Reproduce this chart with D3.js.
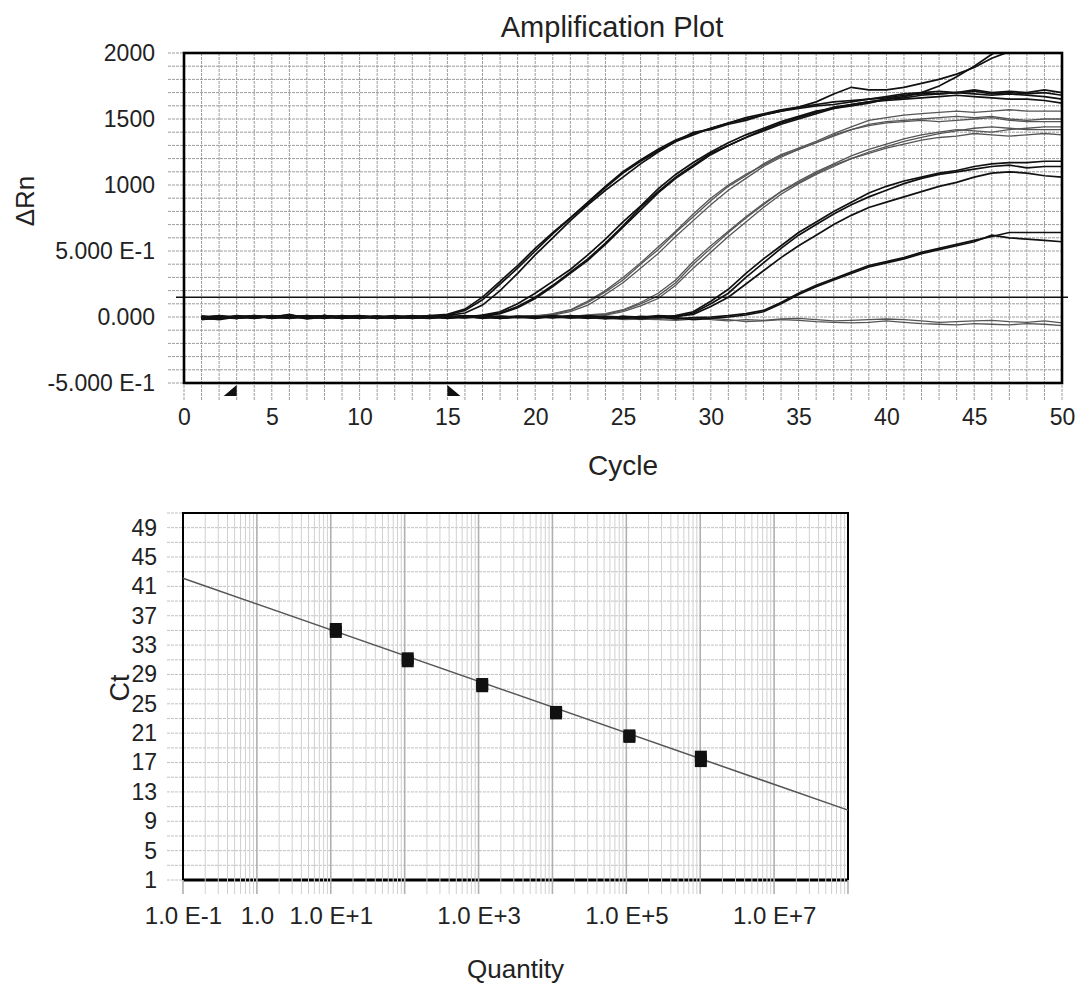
<!DOCTYPE html>
<html>
<head>
<meta charset="utf-8">
<script src="https://cdn.jsdelivr.net/npm/d3@7"></script>
<style>
body { margin: 0; background: #fff; }
svg text { font-family: "Liberation Sans", Arial, sans-serif; fill: #222; }
</style>
</head>
<body>
<div id="chart"></div>
<script>
// ---------- amplification plot data (delta Rn per cycle, cycles 1..50) ----------
const cycles = d3.range(1, 51);
const threshold = 150;
const baselineStart = 3;
const baselineEnd = 15;
const ampXTicks = [0, 5, 10, 15, 20, 25, 30, 35, 40, 45, 50];
const ampYTicks = [-500, 0, 500, 1000, 1500, 2000];
const ampYLabels = ['-5.000 E-1', '0.000', '5.000 E-1', '1000', '1500', '2000'];

const g1a = [-15,-10,0,5,-5,20,-10,5,0,-5, 5,-10,0,10,20,60,150,270,390,520,
  640,750,870,990,1100,1190,1270,1340,1390,1430, 1470,1510,1540,1570,1590,1610,1630,1640,1650,1660,
  1680,1690,1690,1700,1690,1680,1690,1680,1670,1650];
const g1b = [-20,-5,5,-5,0,10,-15,0,10,0, -10,0,-5,5,10,30,90,200,330,470,
  600,730,850,960,1060,1160,1250,1330,1400,1420, 1460,1490,1530,1560,1580,1600,1610,1630,1650,1670,
  1690,1700,1710,1700,1720,1700,1710,1700,1720,1700];
const g1c = [-10,-15,10,0,5,15,-5,10,-5,0, 0,-5,5,0,15,50,130,250,370,500,
  630,750,860,980,1090,1180,1260,1330,1380,1430, 1470,1500,1530,1560,1590,1630,1690,1740,1720,1720,
  1740,1770,1800,1840,1890,1960,2010,2050,2090,2120];
const g2a = [-5,-20,0,10,-10,5,0,-10,5,10, -5,0,10,-5,0,5,10,30,80,150,
  240,340,440,560,690,830,950,1060,1150,1240, 1300,1360,1420,1470,1510,1550,1590,1610,1630,1640,
  1650,1660,1670,1680,1670,1660,1650,1650,1640,1620];
const g2b = [-15,0,-10,5,0,-5,10,0,-10,5, 0,10,-5,0,-10,0,15,40,100,180,
  270,360,470,590,720,840,970,1080,1170,1250, 1320,1380,1430,1480,1520,1560,1580,1600,1620,1650,
  1660,1680,1690,1700,1710,1690,1700,1690,1700,1680];
const g2c = [-10,-10,5,0,5,-10,0,10,0,-5, 5,-5,0,10,-5,5,5,25,70,140,
  230,330,430,550,680,810,940,1050,1140,1230, 1300,1360,1410,1460,1500,1540,1580,1610,1630,1650,
  1670,1700,1750,1820,1900,1990,2060,2110,2150,2180];
const g3a = [0,-10,5,-5,10,0,-5,5,0,-10, 5,0,-10,5,0,-5,10,0,5,10,
  20,50,110,190,280,400,510,640,760,880, 990,1070,1160,1230,1280,1330,1390,1440,1490,1510,
  1530,1540,1550,1560,1550,1560,1570,1560,1560,1560];
const g3b = [5,-5,0,10,-5,-10,5,0,-5,5, -10,5,0,-5,10,0,-10,5,0,5,
  15,40,90,170,260,370,480,610,730,850, 960,1050,1140,1210,1270,1320,1370,1420,1460,1480,
  1490,1500,1510,1520,1510,1520,1500,1490,1500,1500];
const g3c = [-5,5,-10,0,5,10,-5,-10,5,0, 10,-5,5,0,-10,5,0,-5,10,5,
  25,55,120,200,300,410,530,650,780,900, 1000,1080,1150,1220,1270,1320,1380,1420,1450,1470,
  1480,1490,1480,1490,1500,1510,1490,1480,1480,1480];
const g4a = [10,-5,0,-10,5,0,10,-5,0,5, -5,10,0,-10,5,-5,0,10,-5,0,
  5,0,10,20,50,100,160,260,400,520, 640,750,850,950,1030,1100,1160,1220,1270,1310,
  1350,1380,1400,1420,1410,1400,1420,1430,1440,1440];
const g4b = [-10,5,-5,0,10,-5,0,5,-10,0, 5,-5,10,0,-5,5,-10,0,5,-5,
  0,5,5,15,40,85,140,240,370,490, 610,720,830,930,1010,1080,1140,1200,1250,1290,
  1330,1360,1390,1410,1430,1440,1430,1420,1420,1420];
const g4c = [0,10,-5,5,-5,10,-10,0,5,-5, 0,5,-5,10,0,-10,5,-5,0,10,
  10,5,15,25,55,110,180,280,420,540, 650,760,860,950,1020,1090,1150,1200,1240,1280,
  1310,1340,1360,1370,1390,1380,1370,1380,1390,1380];
const g5a = [-10,0,5,-5,10,0,-5,5,-10,0, 5,0,-5,10,-5,0,5,-10,0,5, -5,10,0,-10,5,0,-5,10,40,120,
  210,330,440,540,640,720,800,870,940,990, 1030,1060,1090,1110,1140,1160,1170,1170,1180,1180];
const g5b = [5,-10,0,5,-5,0,10,-5,0,-10, 0,5,-10,0,5,-5,10,0,-5,0, 10,-5,5,0,-10,5,0,0,30,100,
  180,300,410,520,620,700,780,850,910,960, 1010,1050,1080,1100,1120,1140,1150,1130,1140,1140];
const g5c = [0,5,-10,10,0,-5,0,10,-5,5, -10,0,5,-5,0,10,-10,5,0,-5, 0,5,-10,5,0,-5,10,5,20,80,
  150,250,350,450,540,620,700,770,830,870, 910,950,990,1020,1060,1090,1100,1090,1070,1060];
const g6a = [-5,10,0,-10,5,0,-5,10,0,-5, 5,-10,0,5,-5,10,0,-10,5,0, -5,0,10,-5,-10,0,5,-15,-5,0,
  10,25,50,110,180,240,290,340,390,420, 450,490,520,550,580,610,640,640,640,640];
const g6b = [5,-5,-10,5,0,10,-5,0,-10,5, 0,5,-5,-10,5,0,10,-5,0,-10, 5,-5,0,-10,5,-15,0,-5,-20,-10,
  0,15,40,100,170,230,280,330,380,410, 440,480,510,540,570,620,600,590,580,570];
const ntc1 = [10,-5,0,5,-10,0,5,-5,0,10, 0,-10,5,0,-5,0,5,-10,0,-5,
  0,-10,-5,-15,-10,-20,-10,-15,-5,-20, -30,-20,-25,-15,-10,-20,-30,-25,-20,-15,
  -20,-30,-40,-35,-30,-25,-35,-40,-30,-45];
const ntc2 = [-10,0,5,-5,0,5,-10,0,5,-5, 5,0,-5,0,10,-5,0,5,-5,0,
  -5,0,-10,-5,-20,-15,-20,-25,-15,-10, -20,-35,-30,-20,-25,-35,-40,-45,-40,-30,
  -40,-50,-55,-60,-50,-55,-60,-50,-55,-65];

const darkCurves = [g1a, g1b, g1c, g2a, g2b, g2c, g5a, g5b, g5c, g6a, g6b];
const greyCurves = [g3a, g3b, g3c, g4a, g4b, g4c, ntc1, ntc2];

// ---------- standard curve data ----------
const stdQuantity = [11.7, 11.7, 110, 110, 1120, 1120, 11200, 11200, 110000, 110000, 1020000, 1020000];
const stdCt = [34.8, 35.2, 30.8, 31.2, 27.4, 27.7, 23.7, 23.9, 20.5, 20.7, 17.2, 17.8];
const fitSlope = -3.51;
const fitIntercept = 38.6;
const fitRange = [0.1, 1e8];
const stdYTicks = [1, 5, 9, 13, 17, 21, 25, 29, 33, 37, 41, 45, 49];
const stdXTicks = [0.1, 1, 10, 1000, 1e5, 1e7];
const stdXLabels = ['1.0 E-1', '1.0', '1.0 E+1', '1.0 E+3', '1.0 E+5', '1.0 E+7'];

const svg = d3.select('#chart').append('svg')
    .attr('width', 1075)
    .attr('height', 983);

// ================= Amplification plot =================
const ax = {left: 184, right: 1062, top: 53, bottom: 383};
const x1 = d3.scaleLinear().domain([0, 50]).range([ax.left, ax.right]);
const y1 = d3.scaleLinear().domain([-500, 2000]).range([ax.bottom, ax.top]);

const amp = svg.append('g').attr('id', 'amp');

// grid every cycle and every 100 units
amp.append('g')
    .attr('stroke', '#9c9c9c')
    .attr('stroke-width', 1)
    .attr('stroke-dasharray', '3,1')
    .call(g => g.selectAll('line.v')
        .data(d3.range(0, 51))
        .join('line')
        .attr('x1', d => x1(d)).attr('x2', d => x1(d))
        .attr('y1', ax.top).attr('y2', ax.bottom + 17))
    .call(g => g.selectAll('line.h')
        .data(d3.range(-500, 2001, 100))
        .join('line')
        .attr('y1', d => y1(d)).attr('y2', d => y1(d))
        .attr('x1', ax.left - 16).attr('x2', ax.right));

amp.append('clipPath').attr('id', 'ampClip')
    .append('rect')
    .attr('x', ax.left).attr('y', ax.top)
    .attr('width', ax.right - ax.left).attr('height', ax.bottom - ax.top);

const line1 = d3.line()
    .x((d, i) => x1(cycles[i]))
    .y(d => y1(d));

const curves = amp.append('g').attr('clip-path', 'url(#ampClip)').attr('fill', 'none');
curves.selectAll('path.grey')
    .data(greyCurves)
    .join('path')
    .attr('class', 'grey')
    .attr('d', line1)
    .attr('stroke', '#555')
    .attr('stroke-width', 1.3);
curves.selectAll('path.dark')
    .data(darkCurves)
    .join('path')
    .attr('class', 'dark')
    .attr('d', line1)
    .attr('stroke', '#111')
    .attr('stroke-width', 1.7);

// threshold line
amp.append('line')
    .attr('x1', ax.left - 8).attr('x2', ax.right + 6)
    .attr('y1', y1(threshold)).attr('y2', y1(threshold))
    .attr('stroke', '#111')
    .attr('stroke-width', 1.5);

// frame
amp.append('rect')
    .attr('x', ax.left).attr('y', ax.top)
    .attr('width', ax.right - ax.left).attr('height', ax.bottom - ax.top)
    .attr('fill', 'none')
    .attr('stroke', '#000')
    .attr('stroke-width', 2.6);

// baseline start / end markers
const by = ax.bottom + 2;
amp.append('path')
    .attr('d', `M${x1(baselineStart)},${by} L${x1(baselineStart)},${by + 11} L${x1(baselineStart) - 13},${by + 11} Z`)
    .attr('fill', '#111');
amp.append('path')
    .attr('d', `M${x1(baselineEnd)},${by} L${x1(baselineEnd)},${by + 11} L${x1(baselineEnd) + 13},${by + 11} Z`)
    .attr('fill', '#111');

// axes
amp.append('g')
    .attr('transform', `translate(${ax.left},0)`)
    .call(d3.axisLeft(y1).tickValues(ampYTicks).tickFormat((d, i) => ampYLabels[i]).tickSize(0).tickPadding(29))
    .call(g => g.select('.domain').remove())
    .call(g => g.selectAll('text').attr('font-size', 23).attr('font-family', null));
amp.append('g')
    .attr('transform', `translate(0,${ax.bottom})`)
    .call(d3.axisBottom(x1).tickValues(ampXTicks).tickSize(0).tickPadding(26))
    .call(g => g.select('.domain').remove())
    .call(g => g.selectAll('text').attr('font-size', 23).attr('font-family', null));

amp.append('text')
    .attr('x', 612).attr('y', 37)
    .attr('text-anchor', 'middle')
    .attr('font-size', 29)
    .text('Amplification Plot');
amp.append('text')
    .attr('x', (ax.left + ax.right) / 2).attr('y', 475)
    .attr('text-anchor', 'middle')
    .attr('font-size', 28)
    .text('Cycle');
amp.append('text')
    .attr('transform', 'translate(34,201) rotate(-90)')
    .attr('text-anchor', 'middle')
    .attr('font-size', 26)
    .text('ΔRn');

// ================= Standard curve =================
const sx = {left: 183, right: 848, top: 513, bottom: 880};
const x2 = d3.scaleLog().domain([0.1, 1e8]).range([sx.left, sx.right]);
const y2 = d3.scaleLinear().domain([1, 51]).range([sx.bottom, sx.top]);

const std = svg.append('g').attr('id', 'std');

std.append('g')
    .attr('stroke', '#c2c2c2')
    .attr('stroke-width', 1)
    .attr('stroke-dasharray', '3,1')
    .selectAll('line')
    .data(d3.range(1, 52, 2))
    .join('line')
    .attr('y1', d => y2(d)).attr('y2', d => y2(d))
    .attr('x1', sx.left - 16).attr('x2', sx.right);

// bottom edge first, so vertical grid cuts through it
std.append('line')
    .attr('x1', sx.left).attr('x2', sx.right)
    .attr('y1', sx.bottom).attr('y2', sx.bottom)
    .attr('stroke', '#000')
    .attr('stroke-width', 3);

const isDecade = d => Math.abs(Math.log10(d) - Math.round(Math.log10(d))) < 1e-9;
std.append('g')
    .selectAll('line')
    .data(x2.ticks(90))
    .join('line')
    .attr('x1', d => x2(d)).attr('x2', d => x2(d))
    .attr('y1', sx.top).attr('y2', sx.bottom + 14)
    .attr('stroke', d => isDecade(d) ? '#b0b0b0' : '#d0d0d0')
    .attr('stroke-width', d => isDecade(d) ? 1.6 : 1);

// left, top, right edges
std.append('path')
    .attr('d', `M${sx.left},${sx.bottom} L${sx.left},${sx.top} L${sx.right},${sx.top} L${sx.right},${sx.bottom}`)
    .attr('fill', 'none')
    .attr('stroke', '#000')
    .attr('stroke-width', 2);

// fitted line
std.append('path')
    .datum(fitRange)
    .attr('d', d3.line().x(d => x2(d)).y(d => y2(fitIntercept + fitSlope * Math.log10(d))))
    .attr('fill', 'none')
    .attr('stroke', '#555')
    .attr('stroke-width', 1.5);

// standards
std.append('g')
    .selectAll('rect')
    .data(stdQuantity)
    .join('rect')
    .attr('x', d => x2(d) - 6)
    .attr('y', (d, i) => y2(stdCt[i]) - 6)
    .attr('width', 12)
    .attr('height', 12)
    .attr('fill', '#111');

std.append('g')
    .attr('transform', `translate(${sx.left},0)`)
    .call(d3.axisLeft(y2).tickValues(stdYTicks).tickSize(0).tickPadding(26))
    .call(g => g.select('.domain').remove())
    .call(g => g.selectAll('text').attr('font-size', 23).attr('font-family', null));
std.append('g')
    .attr('transform', `translate(0,${sx.bottom})`)
    .call(d3.axisBottom(x2).tickValues(stdXTicks).tickFormat((d, i) => stdXLabels[i]).tickSize(0).tickPadding(27))
    .call(g => g.select('.domain').remove())
    .call(g => g.selectAll('text').attr('font-size', 24).attr('font-family', null));

std.append('text')
    .attr('x', (sx.left + sx.right) / 2).attr('y', 978)
    .attr('text-anchor', 'middle')
    .attr('font-size', 26)
    .text('Quantity');
std.append('text')
    .attr('transform', 'translate(129,688) rotate(-90)')
    .attr('text-anchor', 'middle')
    .attr('font-size', 27)
    .text('Ct');
</script>
</body>
</html>
